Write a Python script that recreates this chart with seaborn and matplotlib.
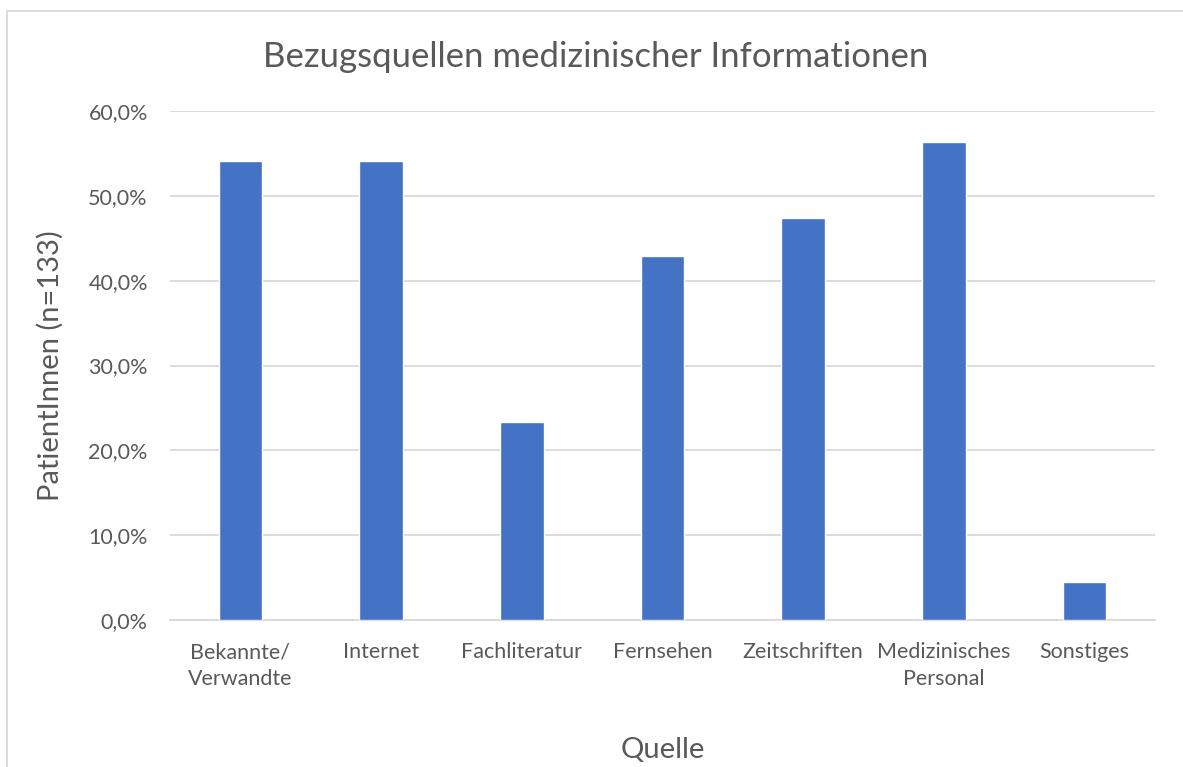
import matplotlib
matplotlib.use("Agg")
import matplotlib.pyplot as plt
from matplotlib.patches import Rectangle
from matplotlib.ticker import FuncFormatter
import seaborn as sns
import pandas as pd

categories = ["Bekannte/\nVerwandte", "Internet", "Fachliteratur", "Fernsehen",
              "Zeitschriften", "Medizinisches\nPersonal", "Sonstiges"]
values = [54.1, 54.1, 23.3, 42.9, 47.4, 56.4, 4.5]
y_ticks = [0, 10, 20, 30, 40, 50, 60]

TEXT = "#595959"
GRID = "#d9d9d9"
BAR = "#4472C4"

sns.set_theme(style="white")
plt.rcParams['font.family'] = ['Lato', 'DejaVu Sans']

df = pd.DataFrame({"Quelle": categories, "Anteil": values})

fig = plt.figure(figsize=(11.83, 7.67), dpi=100)
ax = fig.add_axes([170 / 1183, 1 - 620 / 767, 985 / 1183, 509 / 767])

sns.barplot(data=df, x="Quelle", y="Anteil", color=BAR, width=0.31,
            saturation=1, ax=ax, zorder=3)

ax.set_ylim(0, 60)
ax.set_yticks(y_ticks)
ax.yaxis.set_major_formatter(FuncFormatter(lambda v, p: f"{v:.1f}%".replace(".", ",")))
ax.grid(axis="y", color=GRID, linewidth=1.3, zorder=0)
for s in ["top", "right", "left"]:
    ax.spines[s].set_visible(False)
ax.spines["bottom"].set_color(GRID)
ax.spines["bottom"].set_linewidth(1.3)
ax.tick_params(axis="both", length=0, colors=TEXT, labelsize=15.5)
ax.tick_params(axis="y", pad=16)
ax.tick_params(axis="x", pad=16)
for lbl in ax.get_xticklabels():
    lbl.set_linespacing(1.45)

ax.set_xlabel("Quelle", fontsize=21, color=TEXT, labelpad=34)
ax.set_ylabel("PatientInnen (n=133)", fontsize=21, color=TEXT, labelpad=18)

fig.text(596 / 1183, 1 - 57 / 767, "Bezugsquellen medizinischer Informationen",
         ha="center", va="center", fontsize=25, color=TEXT)

fig.patches.append(Rectangle((7 / 1183, -0.05), 1.1, 1.05 - 11 / 767,
                             transform=fig.transFigure, fill=False,
                             edgecolor=GRID, linewidth=1.3))

fig.savefig("out.png", dpi=100)
